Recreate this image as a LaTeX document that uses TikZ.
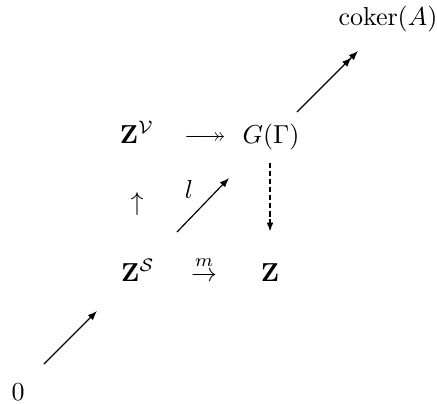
\documentclass[tikz,border=0pt]{standalone}
\usepackage{amsmath,amssymb}
\usetikzlibrary{arrows.meta}
\begin{document}
\begin{tikzpicture}[x=0.385pt,y=-0.385pt,
  lbl/.style={inner sep=0pt,anchor=base},
  arr/.style={line width=0.45pt,-{Latex[length=3.6pt,width=2.8pt]}},
  darr/.style={line width=0.45pt,-{Latex[length=3.6pt,width=2.8pt]Latex[length=3.6pt,width=2.8pt]}},
  dsh/.style={line width=0.7pt,dash pattern=on 2pt off 1.1pt,-{Latex[length=3.6pt,width=2.6pt]}}]
\useasboundingbox (0,0) rectangle (437,404);
\node[lbl] (coker) at (388,25) {$\operatorname{coker}(A)$};
\node[lbl] (zv) at (137,143) {$\mathbf{Z}^{\mathcal{V}}$};
\node[lbl] (surj) at (205,143) {$\relbar\joinrel\twoheadrightarrow$};
\node[lbl] (g) at (271,143) {$G(\Gamma)$};
\node[lbl] (up) at (137,210) {$\uparrow$};
\node[lbl] (l) at (189,198) {$l$};
\node[lbl] (zs) at (138,281) {$\mathbf{Z}^{\mathcal{S}}$};
\node[lbl] (m) at (204,281) {$\stackrel{m}{\rightarrow}$};
\node[lbl] (z) at (270,281) {$\mathbf{Z}$};
\node[lbl] (zero) at (18,400) {$0$};
\coordinate (a0) at (44,364);
\coordinate (b0) at (97,311);
\coordinate (a1) at (177,232);
\coordinate (b1) at (229,178);
\coordinate (a2) at (270,163);
\coordinate (b2) at (270,232);
\coordinate (a3) at (297,112);
\coordinate (b3) at (358,51);
\draw[arr] (a0) -- (b0);
\draw[arr] (a1) -- (b1);
\draw[dsh] (a2) -- (b2);
\draw[darr] (a3) -- (b3);
\end{tikzpicture}
\end{document}
